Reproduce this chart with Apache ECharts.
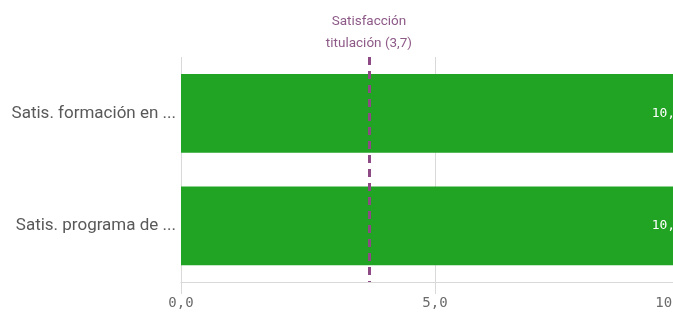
<!DOCTYPE html>
<html><head><meta charset="utf-8">
<script src="https://cdn.jsdelivr.net/npm/echarts@6/dist/echarts.min.js"></script>
<style>html,body{margin:0;padding:0;background:#fff}#c{width:673px;height:331px}</style>
</head><body><div id="c"></div>
<script>
const categories = ['Satis. formación en ...', 'Satis. programa de ...'];
const values = [10.0, 10.0];
const refValue = 3.7;
const refLabel = ['Satisfacción', 'titulación (3,7)'];
const axisMin = 0, axisMax = 10, axisInterval = 5;

const fmt = v => Number(v).toFixed(1).replace('.', ',');
const chart = echarts.init(document.getElementById('c'), null, {renderer: 'canvas'});
chart.setOption({
  animation: false,
  grid: {left: 181, top: 57, width: 508, height: 225, containLabel: false, outerBoundsMode: 'none'},
  xAxis: {
    type: 'value', min: axisMin, max: axisMax, interval: axisInterval,
    axisLine: {show: true, lineStyle: {color: '#d9d9d9', width: 1}},
    axisTick: {show: true, length: 12, lineStyle: {color: '#d9d9d9'}},
    splitLine: {show: true, lineStyle: {color: '#d9d9d9', width: 1}},
    axisLabel: {formatter: fmt, fontFamily: 'DejaVu Sans Mono', fontSize: 14, color: '#6b6b6b', margin: 14,
      showMaxLabel: true, alignMaxLabel: 'right'}
  },
  yAxis: {
    type: 'category', data: categories, inverse: true,
    axisLine: {show: false}, axisTick: {show: false},
    axisLabel: {fontFamily: 'Roboto', fontSize: 17, color: '#595959', margin: 5}
  },
  series: [{
    type: 'bar', data: values, barCategoryGap: '30%',
    itemStyle: {color: '#21a323'},
    label: {show: true, position: 'insideRight', formatter: p => fmt(p.value),
      fontFamily: 'DejaVu Sans Mono', fontSize: 13, color: '#ffffff', distance: 6},
    markLine: {
      silent: true, symbol: 'none',
      lineStyle: {color: '#8e4a85', type: [8, 6], width: 3},
      label: {show: true, position: 'start', formatter: refLabel.join('\n'),
        fontFamily: 'Roboto', fontSize: 13.5, lineHeight: 22, color: '#8e5a88', distance: 2},
      data: [{xAxis: refValue}]
    }
  }]
});
</script></body></html>
